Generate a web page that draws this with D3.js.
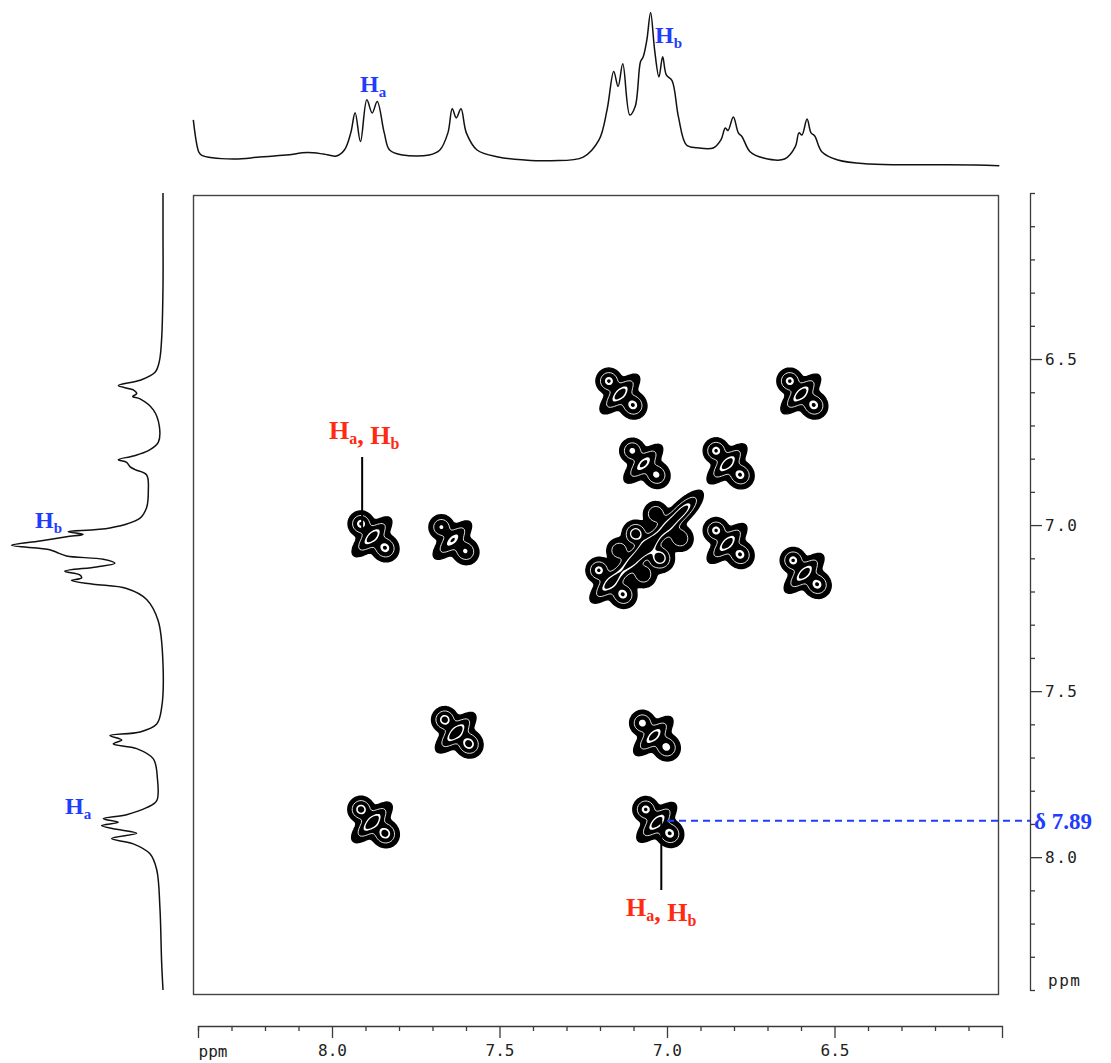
<!DOCTYPE html>
<html>
<head>
<meta charset="utf-8">
<script src="https://cdn.jsdelivr.net/npm/d3@7"></script>
<style>
  html, body { margin: 0; padding: 0; background: #fff; }
  svg { display: block; }
</style>
</head>
<body>
<svg id="cosy" width="1111" height="1063"></svg>
<script>
// 1D projection along the top (F2), ppm / relative intensity
var topPpm = [8.414, 8.398, 8.39, 8.295, 8.216, 8.137, 8.074, 8.026, 7.987, 7.963, 7.944, 7.931, 7.915, 7.896, 7.880, 7.865,
    7.844, 7.828, 7.789, 7.710, 7.678, 7.654, 7.641, 7.629, 7.615, 7.599, 7.567, 7.504, 7.425, 7.345, 7.250, 7.203,
    7.179, 7.159, 7.146, 7.132, 7.111, 7.095, 7.079, 7.071, 7.060, 7.049, 7.037, 7.024, 7.013, 7.002, 6.985, 6.966,
    6.942, 6.910, 6.862, 6.839, 6.826, 6.818, 6.802, 6.787, 6.776, 6.752, 6.712, 6.649, 6.617, 6.606, 6.597, 6.582,
    6.570, 6.559, 6.538, 6.490, 6.396, 6.237, 6.079, 6.008];
var topInt = [29.5, 8.7, 6.5, 3.9, 5.2, 6.5, 8.1, 7.2, 5.9, 9.8, 21, 34.2, 15.3, 42.6, 34, 41.5,
    21, 9.8, 6.5, 6.5, 9.8, 21, 36.7, 30.8, 36.7, 21, 9.8, 5.2, 3.3, 2.8, 5.2, 16.4,
    36, 61.1, 51.3, 66.1, 32.7, 38.2, 67.6, 70.7, 81.9, 99.7, 75.3, 57.6, 70.7, 58.9, 55.2, 31.6,
    13.1, 11.3, 11.1, 16.4, 24.2, 22.5, 31.4, 21, 18.5, 8.7, 4.6, 3.9, 12, 21, 19.6, 30.1,
    21, 19, 8.7, 3.3, 0.7, 0.2, 0, -0.5];

// 1D projection along the left side (F1)
var leftPpm = [6.0, 6.115, 6.28, 6.44, 6.507, 6.54, 6.564, 6.58, 6.593, 6.604, 6.613, 6.62, 6.653, 6.702, 6.751, 6.776,
    6.792, 6.803, 6.811, 6.824, 6.833, 6.849, 6.898, 6.947, 6.979, 7.009, 7.02, 7.028, 7.035, 7.048, 7.061, 7.074,
    7.082, 7.093, 7.103, 7.115, 7.126, 7.139, 7.15, 7.159, 7.167, 7.178, 7.191, 7.224, 7.289, 7.419, 7.55, 7.599,
    7.623, 7.634, 7.647, 7.659, 7.673, 7.704, 7.761, 7.83, 7.851, 7.872, 7.884, 7.895, 7.905, 7.916, 7.928, 7.944,
    7.96, 7.99, 8.038, 8.153, 8.316, 8.40];
var leftInt = [0, 0, 0, 0.9, 2.4, 5.2, 15, 29.2, 19.4, 17.2, 19.8, 15, 6.3, 2.4, 3.1, 9.6,
    19.4, 29.2, 23.8, 21.6, 18.3, 10.7, 9.6, 10.7, 15, 34.7, 62, 52.2, 63, 80.5, 99, 74,
    69.6, 63, 39, 31.4, 43.4, 64.2, 54.4, 53.2, 59.8, 45.6, 23.8, 10.7, 3.1, 0, 0.9, 4.1,
    15, 34.7, 27, 32.5, 17.2, 6.3, 3.7, 4.1, 10.7, 23.8, 39, 29.2, 40.2, 30.3, 17.2, 33.6,
    19.4, 8.5, 4.1, 2, 0.9, 0];

// cross / diagonal peaks: F2 ppm (horizontal), F1 ppm (vertical), relative intensity
var peakF2 = [7.14, 6.60, 7.07, 6.82, 7.88, 7.64, 6.82, 6.59, 7.63, 7.04, 7.88, 7.03, 7.17, 7.11, 7.06, 7.00];
var peakF1 = [6.60, 6.60, 6.81, 6.81, 7.03, 7.04, 7.05, 7.14, 7.62, 7.63, 7.89, 7.89, 7.17, 7.11, 7.06, 7.00];
var peakAmp = [1.0, 1.0, 0.9, 1.0, 1.0, 0.85, 1.0, 1.0, 1.1, 0.95, 1.1, 1.0, 1.0, 0.75, 1.25, 0.8];
// extra diagonal ridge at the top of the Hb cluster
var ridgeF2 = [6.95];
var ridgeF1 = [6.95];
var ridgeAmp = [0.95];

var xMinorTicks = [8.4, 8.3, 8.2, 8.1, 7.9, 7.8, 7.7, 7.6, 7.4, 7.3, 7.2, 7.1, 6.9, 6.8, 6.7, 6.6, 6.4, 6.3, 6.2, 6.1];
var majorTicks = [8.0, 7.5, 7.0, 6.5];
var majorLabels = ["8.0", "7.5", "7.0", "6.5"];
var yMinorTicks = [6.0, 6.1, 6.2, 6.3, 6.4, 6.6, 6.7, 6.8, 6.9, 7.1, 7.2, 7.3, 7.4, 7.6, 7.7, 7.8, 7.9, 8.1, 8.2, 8.3, 8.4];

var svg = d3.select("#cosy");

// scales
var x = d3.scaleLinear().domain([8.4, 6.0]).range([198, 1002]);
var y = d3.scaleLinear().domain([6.0, 8.4]).range([193, 990]);
var topY = d3.scaleLinear().domain([0, 100]).range([165, 12]);
var leftX = d3.scaleLinear().domain([0, 100]).range([163, 10]);

var BLUE = "#1f3cff", RED = "#ff2a12", INK = "#111";

// plot frame
svg.append("rect")
    .attr("x", 193.5).attr("y", 195.5)
    .attr("width", 805).attr("height", 799)
    .attr("fill", "none").attr("stroke", "#444").attr("stroke-width", 1.4);

// contour field built from the peak lists
var roundLobes = [
    {dx: -12, dy: -12, su: 6.0, sv: 6.0, a: 1.0},   // upper left
    {dx: 12, dy: 12, su: 6.3, sv: 6.8, a: 1.0}      // lower right
];
var ridgeLobe = {dx: -1, dy: 1, su: 12, sv: 4.6, a: 1.1};
var step = 1.5, gx0 = 194, gy0 = 196;
var n = Math.ceil((998 - gx0) / step), m = Math.ceil((994 - gy0) / step);
var field = new Float64Array(n * m);

function addLobe(cx, cy, amp, l) {
    var lx = cx + l.dx, ly = cy + l.dy, R = 3.2 * Math.max(l.su, l.sv);
    var i0 = Math.max(0, Math.floor((lx - R - gx0) / step)), i1 = Math.min(n - 1, Math.ceil((lx + R - gx0) / step));
    var j0 = Math.max(0, Math.floor((ly - R - gy0) / step)), j1 = Math.min(m - 1, Math.ceil((ly + R - gy0) / step));
    for (var j = j0; j <= j1; j++) {
        for (var i = i0; i <= i1; i++) {
            var ddx = gx0 + i * step - lx, ddy = gy0 + j * step - ly;
            var u = (ddx - ddy) / Math.SQRT2, v = (ddx + ddy) / Math.SQRT2;
            field[j * n + i] += amp * l.a * Math.exp(-(u * u / (2 * l.su * l.su) + v * v / (2 * l.sv * l.sv)));
        }
    }
}

peakF2.forEach(function (f2, k) {
    var cx = x(f2), cy = y(peakF1[k]);
    roundLobes.forEach(function (l) { addLobe(cx, cy, peakAmp[k], l); });
    addLobe(cx, cy, peakAmp[k], ridgeLobe);
});
ridgeF2.forEach(function (f2, k) {
    addLobe(x(f2), y(ridgeF1[k]), ridgeAmp[k], ridgeLobe);
});

var levels = d3.contours().size([n, m]).thresholds([0.1, 0.38, 0.8, 0.95])(field);
var cpath = d3.geoPath(d3.geoIdentity().scale(step));
var gc = svg.append("g").attr("transform", "translate(" + gx0 + "," + gy0 + ")");

gc.append("path").attr("d", cpath(levels[0])).attr("fill", "#000").attr("stroke", "#000").attr("stroke-width", 1.4);
gc.append("path").attr("d", cpath(levels[1])).attr("fill", "none").attr("stroke", "#fff").attr("stroke-width", 0.9);
gc.append("path").attr("d", cpath(levels[2])).attr("fill", "#fff");
gc.append("path").attr("d", cpath(levels[3])).attr("fill", "#000");

// 1D traces
var topLine = d3.line()
    .x(function (d) { return x(d[0]); })
    .y(function (d) { return topY(d[1]); })
    .curve(d3.curveCatmullRom.alpha(0.5));
svg.append("path")
    .attr("d", topLine(d3.zip(topPpm, topInt)))
    .attr("fill", "none").attr("stroke", INK).attr("stroke-width", 1.5);

var leftLine = d3.line()
    .x(function (d) { return leftX(d[1]); })
    .y(function (d) { return y(d[0]); })
    .curve(d3.curveCatmullRom.alpha(0.5));
svg.append("path")
    .attr("d", leftLine(d3.zip(leftPpm, leftInt)))
    .attr("fill", "none").attr("stroke", INK).attr("stroke-width", 1.5);

// bottom ruler
var axisFont = "'DejaVu Sans Mono', monospace";
var gb = svg.append("g").attr("transform", "translate(0,1026)");
gb.call(d3.axisBottom(x).tickValues(xMinorTicks).tickSize(5).tickSizeOuter(12).tickFormat(""));
gb.append("g").call(d3.axisBottom(x).tickValues(majorTicks).tickSize(12).tickPadding(7)
    .tickFormat(function (d, i) { return majorLabels[i]; }))
    .select(".domain").remove();
gb.append("text").attr("x", 213).attr("y", 31).attr("text-anchor", "middle").text("ppm");

// right ruler
var gr = svg.append("g").attr("transform", "translate(1030,0)");
gr.call(d3.axisRight(y).tickValues(yMinorTicks).tickSize(5).tickSizeOuter(0).tickFormat(""));
gr.append("g").call(d3.axisRight(y).tickValues(majorTicks).tickSize(12).tickPadding(3)
    .tickFormat(function (d, i) { return majorLabels[i]; }))
    .select(".domain").remove();
gr.append("text").attr("x", 18).attr("y", y(8.4) - 4).text("ppm");

svg.selectAll(".domain, .tick line").attr("stroke", "#3a3a3a").attr("stroke-width", 1.3);
svg.selectAll(".tick text, g text").attr("font-family", axisFont).attr("font-size", 16).attr("fill", "#222");
gr.selectAll("text").attr("letter-spacing", 1.5);

// annotations
function hLabel(xp, yp, parts, color, size, anchor) {
    var t = svg.append("text")
        .attr("x", xp).attr("y", yp)
        .attr("font-family", "'Liberation Serif', 'Times New Roman', serif")
        .attr("font-weight", "bold").attr("font-size", size)
        .attr("fill", color).attr("text-anchor", anchor || "start");
    parts.forEach(function (p) {
        if (p.sub) {
            t.append("tspan").attr("font-size", Math.round(size * 0.63)).attr("dy", 5).text(p.sub);
            t.append("tspan").attr("dy", -5).text("");
        } else {
            t.append("tspan").text(p.txt);
        }
    });
    return t;
}

hLabel(360, 92, [{txt: "H"}, {sub: "a"}], BLUE, 24);
hLabel(655, 43, [{txt: "H"}, {sub: "b"}], BLUE, 24);
hLabel(35, 528, [{txt: "H"}, {sub: "b"}], BLUE, 24);
hLabel(65, 814, [{txt: "H"}, {sub: "a"}], BLUE, 24);

// red Ha,Hb markers
svg.append("line").attr("x1", x(7.91)).attr("x2", x(7.91)).attr("y1", 457).attr("y2", y(7.03) - 4)
    .attr("stroke", "#000").attr("stroke-width", 2);
hLabel(x(7.91) + 2, 439, [{txt: "H"}, {sub: "a"}, {txt: ", H"}, {sub: "b"}], RED, 26, "middle");
svg.append("line").attr("x1", x(7.017)).attr("x2", x(7.017)).attr("y1", y(7.89)).attr("y2", 890)
    .attr("stroke", "#000").attr("stroke-width", 2);
hLabel(x(7.017), 916, [{txt: "H"}, {sub: "a"}, {txt: ", H"}, {sub: "b"}], RED, 26, "middle");

// δ 7.89 guide
svg.append("line").attr("x1", x(7.0)).attr("x2", 1030).attr("y1", y(7.89)).attr("y2", y(7.89))
    .attr("stroke", BLUE).attr("stroke-width", 2).attr("stroke-dasharray", "7,5");
svg.append("text").attr("x", 1034).attr("y", y(7.89) + 8)
    .attr("font-family", "'Liberation Serif', 'Times New Roman', serif")
    .attr("font-weight", "bold").attr("font-size", 23).attr("fill", BLUE)
    .text("δ 7.89");
</script>
</body>
</html>
